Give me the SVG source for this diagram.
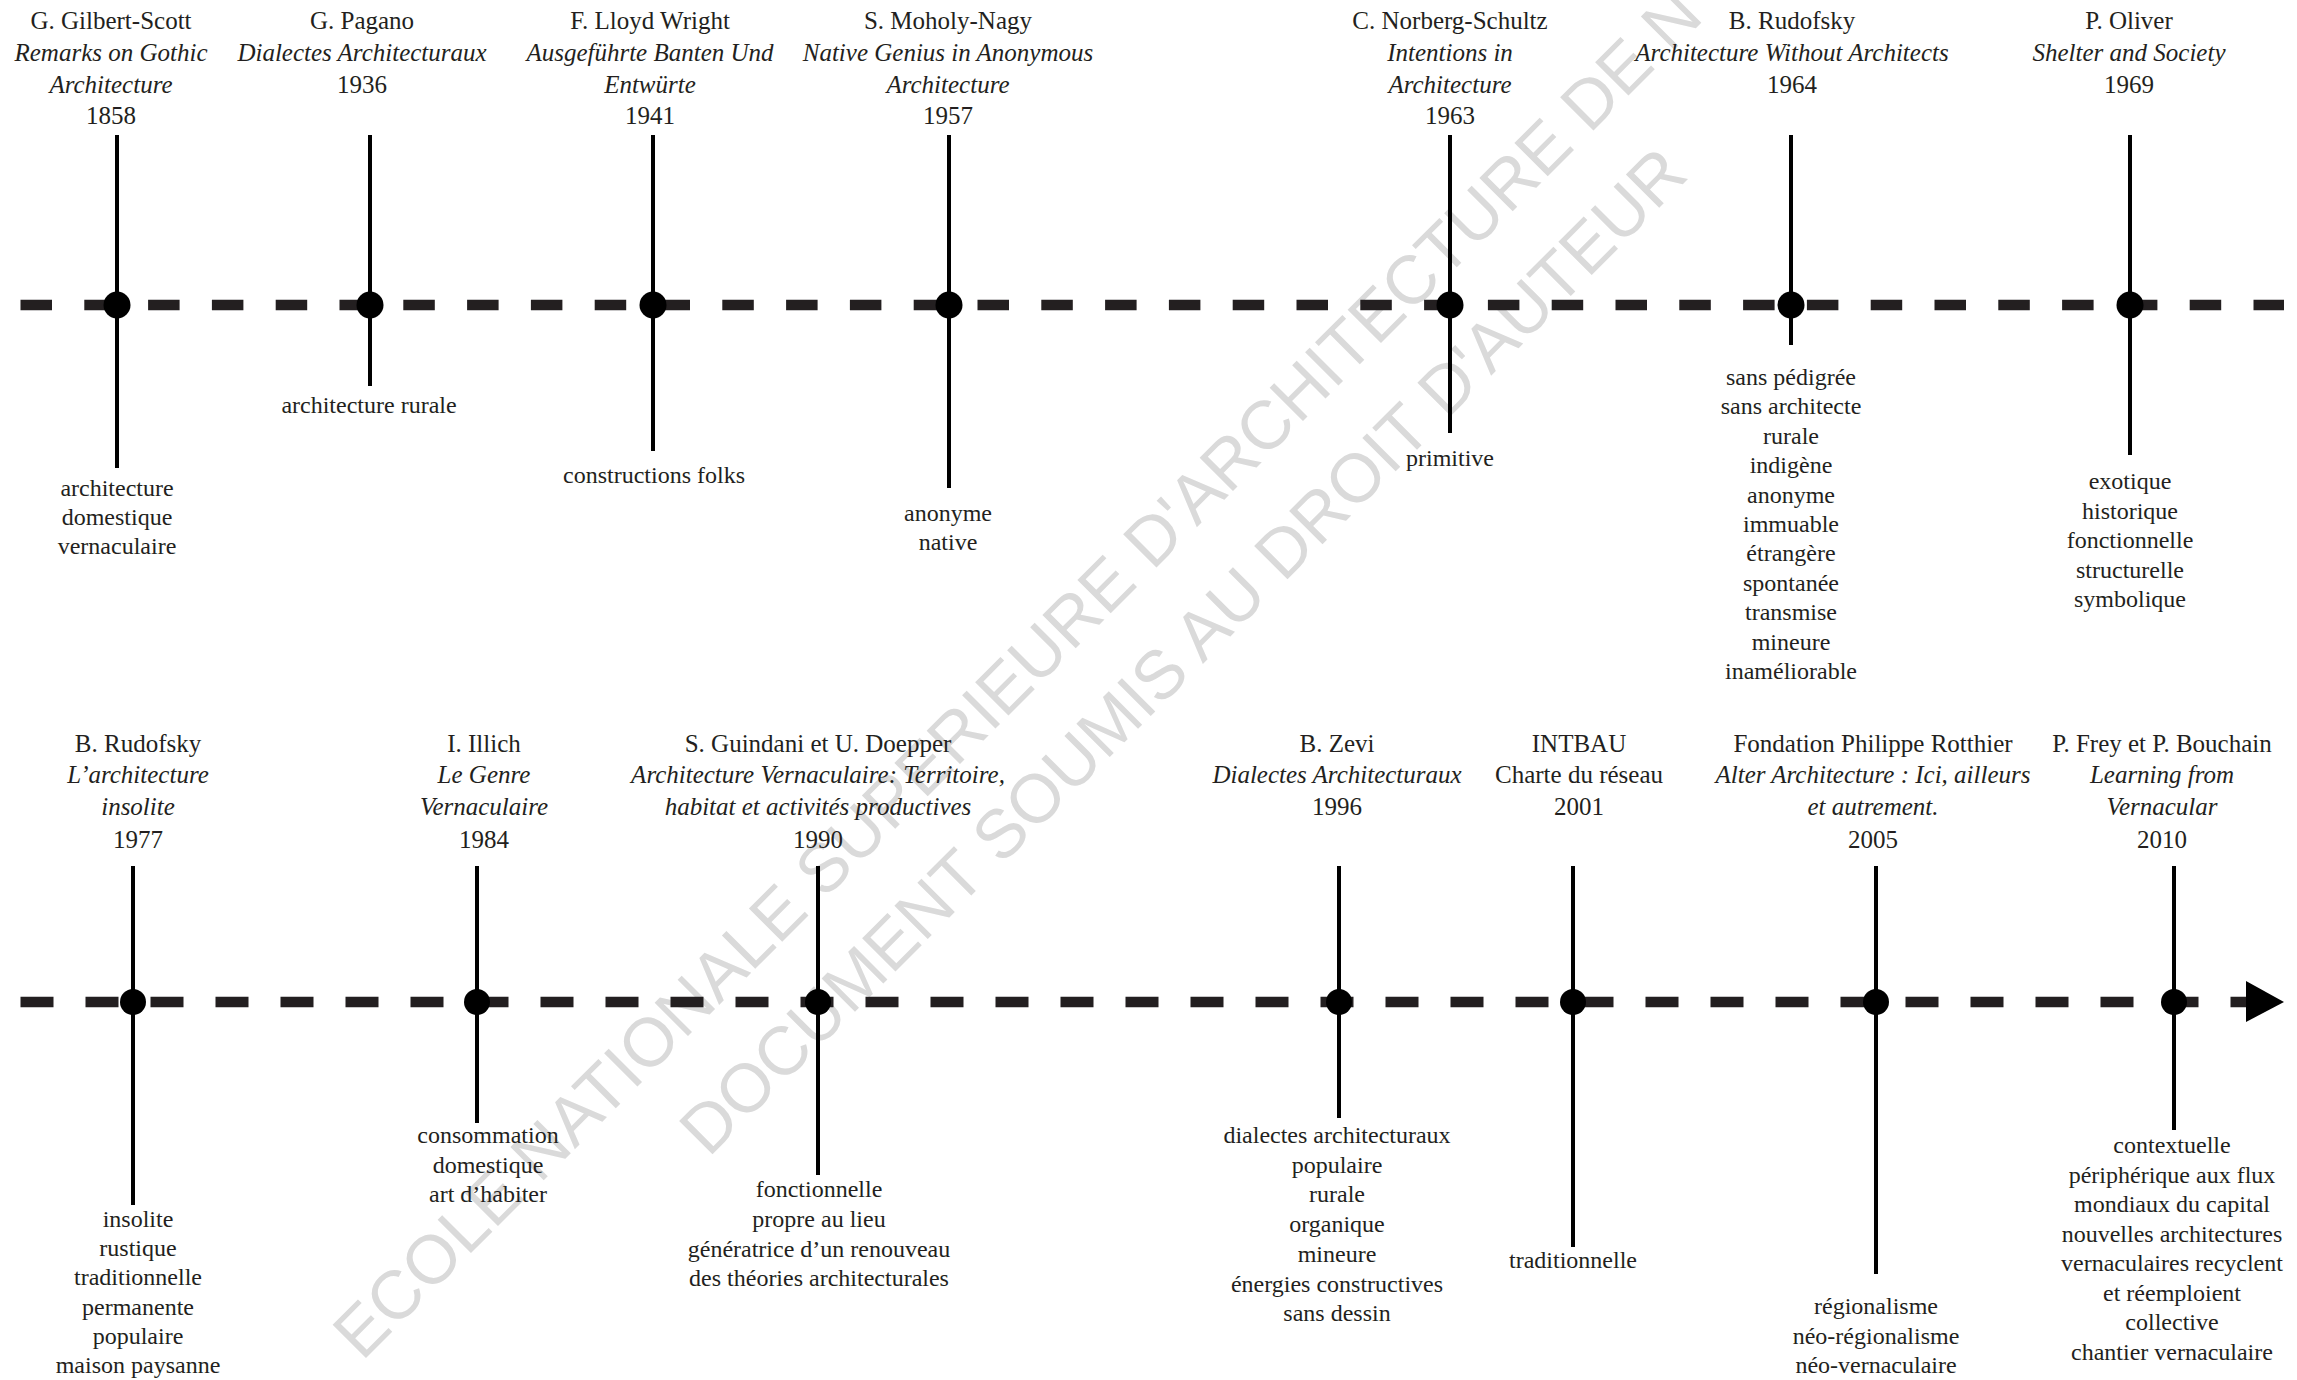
<svg xmlns="http://www.w3.org/2000/svg" width="2297" height="1380" viewBox="0 0 2297 1380">
<style>
text{font-family:"Liberation Serif","Times New Roman",serif;fill:#231f20;text-anchor:middle}
.t{font-size:25px}
.i{font-size:25px;font-style:italic}
.l{font-size:24px}
.stem{stroke:#000;stroke-width:4}
.dot{fill:#000}
.axis{stroke:#231f20;stroke-width:10.5;fill:none}
.wm{font-family:"Liberation Sans",Arial,sans-serif;font-size:68.5px;fill:#dadada;text-anchor:start}
</style>
<rect width="2297" height="1380" fill="#fff"/>
<g id="watermark" transform="translate(362,1362) rotate(-45)">
<text class="wm" x="0" y="0">ECOLE NATIONALE SUPERIEURE D'ARCHITECTURE DE N</text>
<text class="wm" x="389" y="101">DOCUMENT SOUMIS AU DROIT D'AUTEUR</text>
</g>
<g id="connectors">
<line class="axis" x1="20.5" y1="305" x2="2284" y2="305" stroke-dasharray="31.5 32.3"/>
<line class="axis" x1="20.5" y1="1002" x2="2246" y2="1002" stroke-dasharray="33 32"/>
<polygon points="2246,981 2284,1002 2246,1022" fill="#000"/>
</g>
<g id="n1858">
<line class="stem" x1="117" y1="135" x2="117" y2="468"/><circle class="dot" cx="117" cy="305" r="13.5"/>
<text class="t" x="111" y="29">G. Gilbert-Scott</text>
<text class="i" x="111" y="61">Remarks on Gothic</text>
<text class="i" x="111" y="93">Architecture</text>
<text class="t" x="111" y="124">1858</text>
<text class="l" x="117" y="496">architecture</text>
<text class="l" x="117" y="525">domestique</text>
<text class="l" x="117" y="554">vernaculaire</text>
</g>
<g id="n1936">
<line class="stem" x1="370" y1="135" x2="370" y2="386"/><circle class="dot" cx="370" cy="305" r="13.5"/>
<text class="t" x="362" y="29">G. Pagano</text>
<text class="i" x="362" y="61">Dialectes Architecturaux</text>
<text class="t" x="362" y="93">1936</text>
<text class="l" x="369" y="413">architecture rurale</text>
</g>
<g id="n1941">
<line class="stem" x1="653" y1="135" x2="653" y2="451"/><circle class="dot" cx="653" cy="305" r="13.5"/>
<text class="t" x="650" y="29">F. Lloyd Wright</text>
<text class="i" x="650" y="61">Ausgeführte Banten Und</text>
<text class="i" x="650" y="93">Entwürte</text>
<text class="t" x="650" y="124">1941</text>
<text class="l" x="654" y="483">constructions folks</text>
</g>
<g id="n1957">
<line class="stem" x1="949" y1="135" x2="949" y2="488"/><circle class="dot" cx="949" cy="305" r="13.5"/>
<text class="t" x="948" y="29">S. Moholy-Nagy</text>
<text class="i" x="948" y="61">Native Genius in Anonymous</text>
<text class="i" x="948" y="93">Architecture</text>
<text class="t" x="948" y="124">1957</text>
<text class="l" x="948" y="521">anonyme</text>
<text class="l" x="948" y="550">native</text>
</g>
<g id="n1963">
<line class="stem" x1="1450" y1="135" x2="1450" y2="433"/><circle class="dot" cx="1450" cy="305" r="13.5"/>
<text class="t" x="1450" y="29">C. Norberg-Schultz</text>
<text class="i" x="1450" y="61">Intentions in</text>
<text class="i" x="1450" y="93">Architecture</text>
<text class="t" x="1450" y="124">1963</text>
<text class="l" x="1450" y="466">primitive</text>
</g>
<g id="n1964">
<line class="stem" x1="1791" y1="135" x2="1791" y2="345"/><circle class="dot" cx="1791" cy="305" r="13.5"/>
<text class="t" x="1792" y="29">B. Rudofsky</text>
<text class="i" x="1792" y="61">Architecture Without Architects</text>
<text class="t" x="1792" y="93">1964</text>
<text class="l" x="1791" y="385">sans pédigrée</text>
<text class="l" x="1791" y="414.4">sans architecte</text>
<text class="l" x="1791" y="443.8">rurale</text>
<text class="l" x="1791" y="473.2">indigène</text>
<text class="l" x="1791" y="502.6">anonyme</text>
<text class="l" x="1791" y="532">immuable</text>
<text class="l" x="1791" y="561.4">étrangère</text>
<text class="l" x="1791" y="590.8">spontanée</text>
<text class="l" x="1791" y="620.2">transmise</text>
<text class="l" x="1791" y="649.6">mineure</text>
<text class="l" x="1791" y="679">inaméliorable</text>
</g>
<g id="n1969">
<line class="stem" x1="2130" y1="135" x2="2130" y2="455"/><circle class="dot" cx="2130" cy="305" r="13.5"/>
<text class="t" x="2129" y="29">P. Oliver</text>
<text class="i" x="2129" y="61">Shelter and Society</text>
<text class="t" x="2129" y="93">1969</text>
<text class="l" x="2130" y="489">exotique</text>
<text class="l" x="2130" y="518.5">historique</text>
<text class="l" x="2130" y="548">fonctionnelle</text>
<text class="l" x="2130" y="577.5">structurelle</text>
<text class="l" x="2130" y="607">symbolique</text>
</g>
<g id="n1977">
<line class="stem" x1="133" y1="866" x2="133" y2="1205"/><circle class="dot" cx="133" cy="1002" r="13"/>
<text class="t" x="138" y="752">B. Rudofsky</text>
<text class="i" x="138" y="783">L’architecture</text>
<text class="i" x="138" y="815">insolite</text>
<text class="t" x="138" y="848">1977</text>
<text class="l" x="138" y="1227">insolite</text>
<text class="l" x="138" y="1256.2">rustique</text>
<text class="l" x="138" y="1285.4">traditionnelle</text>
<text class="l" x="138" y="1314.6">permanente</text>
<text class="l" x="138" y="1343.8">populaire</text>
<text class="l" x="138" y="1373">maison paysanne</text>
</g>
<g id="n1984">
<line class="stem" x1="477" y1="866" x2="477" y2="1123"/><circle class="dot" cx="477" cy="1002" r="13"/>
<text class="t" x="484" y="752">I. Illich</text>
<text class="i" x="484" y="783">Le Genre</text>
<text class="i" x="484" y="815">Vernaculaire</text>
<text class="t" x="484" y="848">1984</text>
<text class="l" x="488" y="1143">consommation</text>
<text class="l" x="488" y="1173">domestique</text>
<text class="l" x="488" y="1202">art d’habiter</text>
</g>
<g id="n1990">
<line class="stem" x1="818" y1="866" x2="818" y2="1175"/><circle class="dot" cx="818" cy="1002" r="13"/>
<text class="t" x="818" y="752">S. Guindani et U. Doepper</text>
<text class="i" x="818" y="783">Architecture Vernaculaire: Territoire,</text>
<text class="i" x="818" y="815">habitat et activités productives</text>
<text class="t" x="818" y="848">1990</text>
<text class="l" x="819" y="1197">fonctionnelle</text>
<text class="l" x="819" y="1227">propre au lieu</text>
<text class="l" x="819" y="1256.5">génératrice d’un renouveau</text>
<text class="l" x="819" y="1286">des théories architecturales</text>
</g>
<g id="n1996">
<line class="stem" x1="1339" y1="866" x2="1339" y2="1118"/><circle class="dot" cx="1339" cy="1002" r="13"/>
<text class="t" x="1337" y="752">B. Zevi</text>
<text class="i" x="1337" y="783">Dialectes Architecturaux</text>
<text class="t" x="1337" y="815">1996</text>
<text class="l" x="1337" y="1143">dialectes architecturaux</text>
<text class="l" x="1337" y="1172.7">populaire</text>
<text class="l" x="1337" y="1202.4">rurale</text>
<text class="l" x="1337" y="1232.1">organique</text>
<text class="l" x="1337" y="1261.8">mineure</text>
<text class="l" x="1337" y="1291.5">énergies constructives</text>
<text class="l" x="1337" y="1321.2">sans dessin</text>
</g>
<g id="n2001">
<line class="stem" x1="1573" y1="866" x2="1573" y2="1247"/><circle class="dot" cx="1573" cy="1002" r="13"/>
<text class="t" x="1579" y="752">INTBAU</text>
<text class="t" x="1579" y="783">Charte du réseau</text>
<text class="t" x="1579" y="815">2001</text>
<text class="l" x="1573" y="1268">traditionnelle</text>
</g>
<g id="n2005">
<line class="stem" x1="1876" y1="866" x2="1876" y2="1274"/><circle class="dot" cx="1876" cy="1002" r="13"/>
<text class="t" x="1873" y="752">Fondation Philippe Rotthier</text>
<text class="i" x="1873" y="783">Alter Architecture : Ici, ailleurs</text>
<text class="i" x="1873" y="815">et autrement.</text>
<text class="t" x="1873" y="848">2005</text>
<text class="l" x="1876" y="1314">régionalisme</text>
<text class="l" x="1876" y="1343.5">néo-régionalisme</text>
<text class="l" x="1876" y="1373">néo-vernaculaire</text>
</g>
<g id="n2010">
<line class="stem" x1="2174" y1="866" x2="2174" y2="1130"/><circle class="dot" cx="2174" cy="1002" r="13"/>
<text class="t" x="2162" y="752">P. Frey et P. Bouchain</text>
<text class="i" x="2162" y="783">Learning from</text>
<text class="i" x="2162" y="815">Vernacular</text>
<text class="t" x="2162" y="848">2010</text>
<text class="l" x="2172" y="1153">contextuelle</text>
<text class="l" x="2172" y="1182.5">périphérique aux flux</text>
<text class="l" x="2172" y="1212">mondiaux du capital</text>
<text class="l" x="2172" y="1241.5">nouvelles architectures</text>
<text class="l" x="2172" y="1271">vernaculaires recyclent</text>
<text class="l" x="2172" y="1300.5">et réemploient</text>
<text class="l" x="2172" y="1330">collective</text>
<text class="l" x="2172" y="1359.5">chantier vernaculaire</text>
</g>
</svg>
